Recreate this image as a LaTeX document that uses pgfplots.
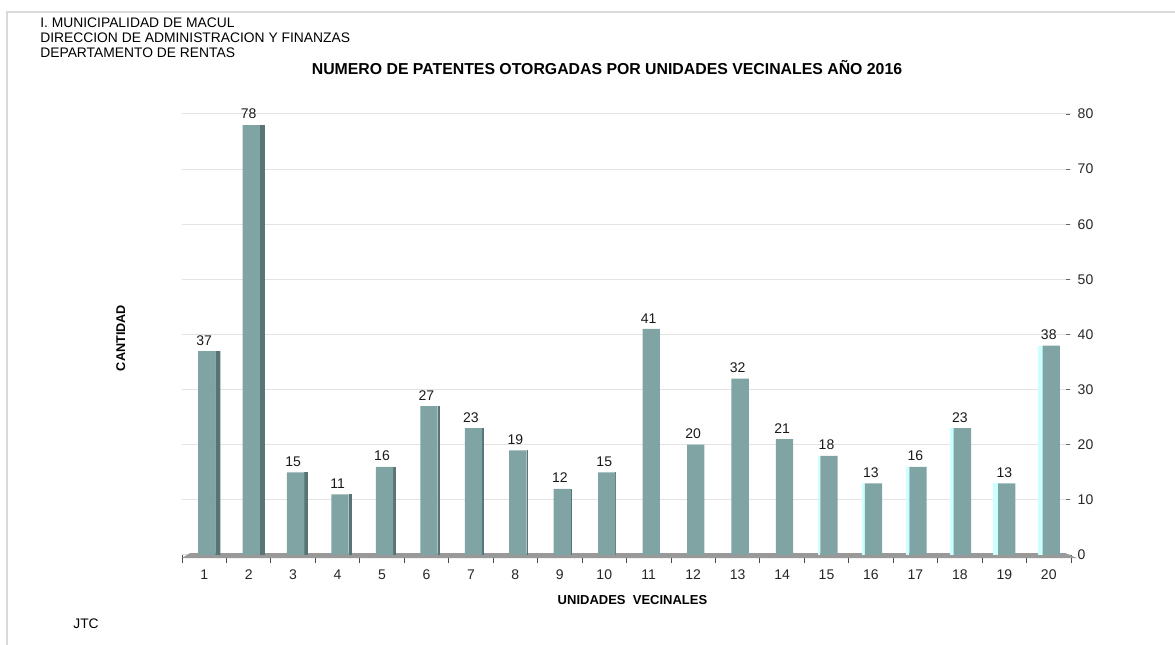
\documentclass[border=0pt]{standalone}
\usepackage{fontspec}
\setmainfont{Liberation Sans}
\usepackage{pgfplots}
\pgfplotsset{compat=1.18}
\definecolor{cfront}{HTML}{80A4A3}
\definecolor{cdark}{HTML}{587474}
\definecolor{clight}{HTML}{CCFFFF}
\definecolor{cfloor}{HTML}{999999}
\definecolor{cgrid}{HTML}{E3E3E3}
\definecolor{cframe}{HTML}{D9D9D9}
\newcommand{\lab}{\fontsize{8.3}{10}\selectfont}
\newcommand{\num}{\fontsize{8.4}{10}\selectfont}
% one side face of a pseudo-3D bar: {coords}{width pt}{shift pt}{colour}
\newcommand{\side}[4]{\addplot[ybar, draw=none, fill=#4, bar width=#2pt, bar shift=#3pt] coordinates {#1};}

\begin{document}
\begin{tikzpicture}
\path[use as bounding box] (0,0) rectangle (705pt,387pt);
\draw[cframe, line width=1.2pt] (4.2pt,0) -- (4.2pt,379.8pt) -- (705pt,379.8pt);
\node[anchor=base west, font=\lab, inner sep=0] at (24pt,370.2pt) {I. MUNICIPALIDAD DE MACUL};
\node[anchor=base west, font=\lab, inner sep=0] at (24pt,361.2pt) {DIRECCION DE ADMINISTRACION Y FINANZAS};
\node[anchor=base west, font=\lab, inner sep=0] at (24pt,352.2pt) {DEPARTAMENTO DE RENTAS};
\node[anchor=base, font=\fontsize{9.5}{11}\selectfont\bfseries, inner sep=0] at (364.2pt,342pt) {NUMERO DE PATENTES OTORGADAS POR UNIDADES VECINALES AÑO 2016};
\node[anchor=base west, font=\lab, inner sep=0] at (43.8pt,9.6pt) {JTC};
\node[anchor=base, font=\fontsize{7.8}{9}\selectfont\bfseries, inner sep=0] at (379.5pt,24pt) {UNIDADES\ \ VECINALES};
\node[anchor=base, rotate=90, font=\fontsize{7.6}{9}\selectfont\bfseries, inner sep=0] at (75pt,184.2pt) {CANTIDAD};
\begin{axis}[
  at={(109.2pt,54pt)}, anchor=south west,
  scale only axis, width=533.4pt, height=264.6pt,
  xmin=0.5, xmax=20.5, ymin=0, ymax=80,
  axis x line*=bottom, axis y line*=right,
  axis line style={draw=none},
  clip=false,
  xtick={1,...,20},
  minor xtick={0.5,1.5,...,20.5},
  ytick={0,10,...,80},
  tick align=outside,
  major tick length=2.5pt, minor tick length=5pt,
  every major x tick/.append style={draw=none},
  every minor x tick/.append style={black!70, line width=0.5pt},
  every major y tick/.append style={black!60, line width=0.5pt, xshift=-3pt},
  ymajorgrids, grid style={cgrid, line width=0.6pt},
  /pgf/number format/assume math mode=true,
  tick label style={font=\num, text=black!85},
  xticklabel style={yshift=-3pt},
  yticklabel style={xshift=-2pt},
  nodes near coords style={font=\num, text=black!90},
]
\fill[cfloor] (axis cs:0.5,-0.55) -- (axis cs:0.68,0.35) -- (axis cs:20.37,0.35) -- (axis cs:20.63,-0.55) -- cycle;
% dark right faces
\side{(1,37) (2,78)}{3.0}{8.2}{cdark}
\side{(3,15)}{2.4}{7.9}{cdark}
\side{(4,11)}{2.0}{7.7}{cdark}
\side{(5,16)}{1.8}{7.6}{cdark}
\side{(6,27)}{1.5}{7.45}{cdark}
\side{(7,23)}{1.2}{7.3}{cdark}
\side{(8,19)}{0.9}{7.15}{cdark}
\side{(9,12)}{0.6}{7.0}{cdark}
\side{(10,15)}{0.4}{6.9}{cdark}
% light left faces
\side{(15,18)}{1.2}{-4.3}{clight}
\side{(16,13)}{1.5}{-4.45}{clight}
\side{(17,16)}{2.2}{-4.8}{clight}
\side{(18,23)}{2.4}{-4.9}{clight}
\side{(19,13)}{2.8}{-5.1}{clight}
\side{(20,38)}{3.0}{-5.2}{clight}
% front faces
\addplot[ybar, draw=none, fill=cfront, bar width=10.4pt, bar shift=1.5pt, nodes near coords] coordinates {
(1,37) (2,78) (3,15) (4,11) (5,16) (6,27) (7,23) (8,19) (9,12) (10,15)
(11,41) (12,20) (13,32) (14,21) (15,18) (16,13) (17,16) (18,23) (19,13) (20,38)};
\end{axis}
\end{tikzpicture}
\end{document}
